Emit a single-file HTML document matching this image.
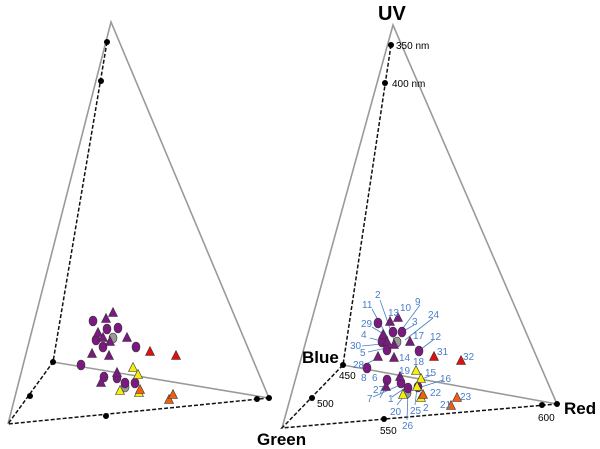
<!DOCTYPE html>
<html><head><meta charset="utf-8"><style>
html,body{margin:0;padding:0;background:#fff;width:600px;height:449px;overflow:hidden}
svg{display:block}
.g{stroke:#9a9a9a;stroke-width:1.6;fill:none}
.d{stroke:#111;stroke-width:1.5;stroke-dasharray:4,2;fill:none}
.p{fill:#7a1a80;stroke:#333;stroke-width:.6}
.gr{fill:#999;stroke:#333;stroke-width:.6}
.r{fill:#e01010;stroke:#333;stroke-width:.6}
.y{fill:#f2ee10;stroke:#333;stroke-width:.6}
.o{fill:#f06010;stroke:#333;stroke-width:.6}
.n{font-family:"Liberation Sans",sans-serif;font-size:10px;fill:#4a7ec8}
.l{stroke:#4a7ec8;stroke-width:.8}
.b{font-family:"Liberation Sans",sans-serif;font-weight:bold;fill:#000}
.s{font-family:"Liberation Sans",sans-serif;font-size:10px;fill:#000}
</style></head><body>
<svg width="600" height="449" viewBox="0 0 600 449">
<defs>
<polygon id="t" points="0,-5.5 4.5,3.5 -4.5,3.5"/>
</defs>
<!-- LEFT -->
<polyline class="g" points="8,424 111,22 269,398"/>
<line class="g" x1="53" y1="362" x2="269" y2="398"/>
<polyline class="d" points="107,42 53,362 8,424 269,398"/>
<g fill="#000">
<circle cx="107" cy="42" r="3"/><circle cx="101" cy="81" r="3"/><circle cx="53" cy="362" r="3"/>
<circle cx="30" cy="396" r="3"/><circle cx="106" cy="416" r="3"/><circle cx="257" cy="399" r="3"/><circle cx="269" cy="398" r="3"/>
</g>
<g>
<ellipse class="p" cx="93" cy="321" rx="4" ry="5"/><ellipse class="p" cx="107" cy="329" rx="4" ry="5"/><ellipse class="p" cx="118" cy="328" rx="4" ry="5"/>
<ellipse class="p" cx="96" cy="340" rx="4" ry="5"/><ellipse class="p" cx="103" cy="347" rx="4" ry="5"/><ellipse class="p" cx="136" cy="347" rx="4" ry="5"/>
<ellipse class="p" cx="81" cy="365" rx="4" ry="5"/><ellipse class="p" cx="104" cy="377" rx="4" ry="5"/><ellipse class="p" cx="117" cy="378" rx="4" ry="5"/>
<ellipse class="gr" cx="125" cy="387" rx="4" ry="5"/><ellipse class="p" cx="125" cy="383" rx="4" ry="5"/><ellipse class="p" cx="135" cy="383" rx="4" ry="5"/>
<ellipse class="gr" cx="113" cy="338" rx="4" ry="5"/>
<use href="#t" class="p" x="106" y="319"/><use href="#t" class="p" x="113" y="313"/><use href="#t" class="p" x="98" y="333"/>
<use href="#t" class="p" x="103" y="338"/><use href="#t" class="p" x="110" y="342"/><use href="#t" class="p" x="127" y="338"/>
<use href="#t" class="p" x="92" y="354"/><use href="#t" class="p" x="109" y="356"/><use href="#t" class="p" x="101" y="383"/>
<use href="#t" class="p" x="117" y="373"/>
<use href="#t" class="r" x="150" y="352"/><use href="#t" class="r" x="176" y="356"/>
<use href="#t" class="y" x="133" y="368"/><use href="#t" class="y" x="138" y="375"/><use href="#t" class="y" x="120" y="391"/><use href="#t" class="y" x="139" y="393"/>
<use href="#t" class="o" x="140" y="390"/><use href="#t" class="o" x="169" y="400"/><use href="#t" class="o" x="173" y="395"/>
</g>
<!-- RIGHT -->
<polyline class="g" points="282,428 393,25 557,404"/>
<line class="g" x1="343" y1="365" x2="557" y2="404"/>
<polyline class="d" points="391,45 343,365 282,428 557,404"/>
<g fill="#000">
<circle cx="391" cy="45" r="3"/><circle cx="385" cy="83" r="3"/><circle cx="343" cy="365" r="3"/>
<circle cx="312" cy="398" r="3"/><circle cx="384" cy="419" r="3"/><circle cx="542" cy="405" r="3"/><circle cx="557" cy="404" r="3"/>
</g>
<g class="l">
<line x1="380" y1="300" x2="394" y2="340"/><line x1="372" y1="309" x2="388" y2="338"/><line x1="420" y1="305" x2="400" y2="332"/>
<line x1="433" y1="318" x2="405" y2="340"/><line x1="414" y1="325" x2="402" y2="332"/><line x1="372" y1="327" x2="385" y2="335"/>
<line x1="370" y1="338" x2="385" y2="342"/><line x1="362" y1="346" x2="382" y2="344"/><line x1="368" y1="352" x2="386" y2="348"/>
<line x1="433" y1="340" x2="420" y2="350"/><line x1="362" y1="366" x2="378" y2="358"/><line x1="380" y1="398" x2="388" y2="383"/>
<line x1="373" y1="397" x2="400" y2="385"/><line x1="392" y1="397" x2="405" y2="388"/><line x1="432" y1="375" x2="422" y2="379"/>
<line x1="443" y1="380" x2="418" y2="388"/><line x1="397" y1="405" x2="404" y2="396"/><line x1="407" y1="420" x2="408" y2="392"/>
<line x1="415" y1="405" x2="417" y2="388"/>
</g>
<g>
<ellipse class="p" cx="378" cy="323" rx="4" ry="5"/><ellipse class="p" cx="393" cy="332" rx="4" ry="5"/><ellipse class="p" cx="402" cy="332" rx="4" ry="5"/>
<ellipse class="p" cx="382" cy="342" rx="4" ry="5"/><ellipse class="p" cx="387" cy="350" rx="4" ry="5"/><ellipse class="p" cx="419" cy="351" rx="4" ry="5"/>
<ellipse class="p" cx="367" cy="368" rx="4" ry="5"/><ellipse class="p" cx="387" cy="380" rx="4" ry="5"/><ellipse class="p" cx="401" cy="383" rx="4" ry="5"/>
<ellipse class="gr" cx="407" cy="393" rx="4" ry="5"/><ellipse class="p" cx="408" cy="388" rx="4" ry="5"/><ellipse class="p" cx="418" cy="387" rx="4" ry="5"/>
<ellipse class="gr" cx="397" cy="342" rx="4" ry="5"/>
<use href="#t" class="p" x="390" y="322"/><use href="#t" class="p" x="398" y="318"/><use href="#t" class="p" x="383" y="335"/>
<use href="#t" class="p" x="387" y="342"/><use href="#t" class="p" x="394" y="345"/><use href="#t" class="p" x="410" y="342"/>
<use href="#t" class="p" x="378" y="357"/><use href="#t" class="p" x="394" y="358"/><use href="#t" class="p" x="386" y="387"/>
<use href="#t" class="p" x="400" y="377"/>
<use href="#t" class="r" x="434" y="357"/><use href="#t" class="r" x="461" y="361"/>
<use href="#t" class="y" x="416" y="371"/><use href="#t" class="y" x="421" y="379"/><use href="#t" class="y" x="403" y="395"/><use href="#t" class="y" x="421" y="398"/><use href="#t" class="y" x="417" y="387"/>
<use href="#t" class="o" x="423" y="395"/><use href="#t" class="o" x="451" y="406"/><use href="#t" class="o" x="457" y="398"/>
</g>
<g class="n">
<text x="375" y="298">2</text><text x="362" y="308">11</text><text x="388" y="316">13</text><text x="400" y="311">10</text>
<text x="415" y="305">9</text><text x="361" y="327">29</text><text x="412" y="325">3</text><text x="428" y="318">24</text>
<text x="361" y="338">4</text><text x="413" y="339">17</text><text x="430" y="340">12</text><text x="350" y="349">30</text>
<text x="360" y="356">5</text><text x="437" y="355">31</text><text x="463" y="360">32</text><text x="399" y="361">14</text>
<text x="353" y="368">28</text><text x="413" y="365">18</text><text x="361" y="381">8</text><text x="372" y="381">6</text>
<text x="399" y="374">19</text><text x="425" y="376">15</text><text x="440" y="382">16</text><text x="373" y="393">27</text>
<text x="367" y="402">7</text><text x="388" y="402">1</text><text x="430" y="396">22</text><text x="460" y="400">23</text>
<text x="440" y="408">21</text><text x="390" y="415">20</text><text x="410" y="414">25</text><text x="423" y="411">2</text>
<text x="402" y="429">26</text>
</g>
<text class="b" x="378" y="20" font-size="20">UV</text>
<text class="b" x="302" y="363" font-size="17">Blue</text>
<text class="b" x="257" y="445" font-size="17">Green</text>
<text class="b" x="564" y="414" font-size="17">Red</text>
<text class="s" x="396" y="49">350 nm</text>
<text class="s" x="392" y="87">400 nm</text>
<text class="s" x="339" y="379">450</text>
<text class="s" x="317" y="407">500</text>
<text class="s" x="380" y="434">550</text>
<text class="s" x="538" y="421">600</text>
</svg>
</body></html>
